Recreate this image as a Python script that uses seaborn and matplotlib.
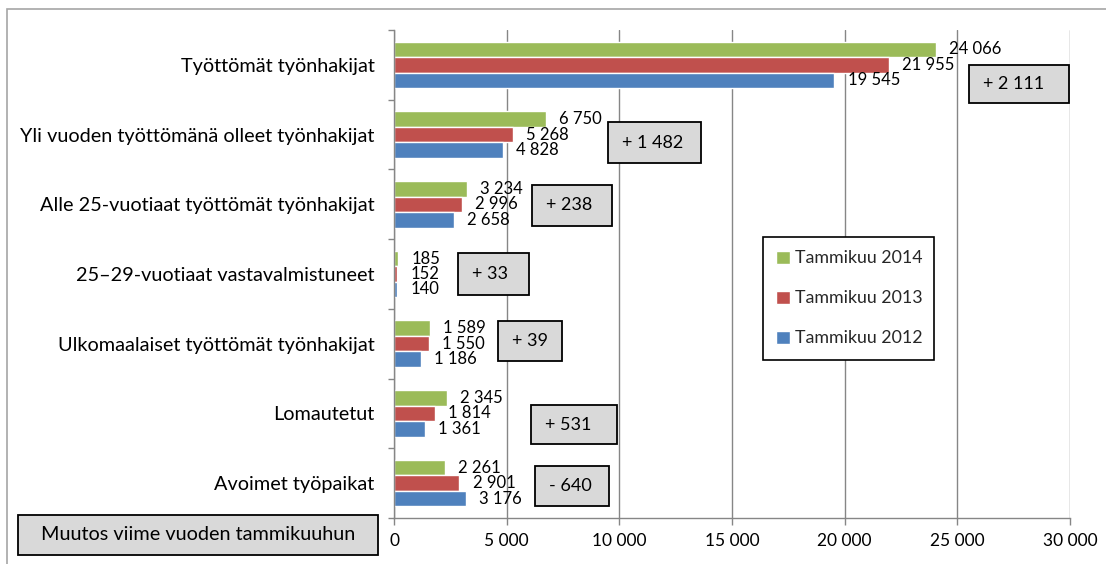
import matplotlib
matplotlib.use("Agg")
import matplotlib.pyplot as plt
import seaborn as sns
import pandas as pd
from matplotlib.patches import Rectangle
from matplotlib.ticker import FixedLocator, FuncFormatter

categories = [
    "Työttömät työnhakijat",
    "Yli vuoden työttömänä olleet työnhakijat",
    "Alle 25-vuotiaat työttömät työnhakijat",
    "25–29-vuotiaat vastavalmistuneet",
    "Ulkomaalaiset työttömät työnhakijat",
    "Lomautetut",
    "Avoimet työpaikat",
]
series_names = ["Tammikuu 2014", "Tammikuu 2013", "Tammikuu 2012"]
values_2014 = [24066, 6750, 3234, 185, 1589, 2345, 2261]
values_2013 = [21955, 5268, 2996, 152, 1550, 1814, 2901]
values_2012 = [19545, 4828, 2658, 140, 1186, 1361, 3176]
changes = ["+ 2 111", "+ 1 482", "+ 238", "+ 33", "+ 39", "+ 531", "- 640"]
x_ticks = [0, 5000, 10000, 15000, 20000, 25000, 30000]
colors = ["#9BBB59", "#C0504D", "#4F81BD"]
note_text = "Muutos viime vuoden tammikuuhun"

rows = []
for name, vals in zip(series_names, [values_2014, values_2013, values_2012]):
    for c, v in zip(categories, vals):
        rows.append({"cat": c, "series": name, "value": v})
df = pd.DataFrame(rows)

sns.set_theme(style="white")
plt.rcParams["font.family"] = ["Lato", "DejaVu Sans"]

W, H = 1106, 564
fig = plt.figure(figsize=(W / 100, H / 100), dpi=100)
ax_l, ax_r, ax_t, ax_b = 394, 1070, 30, 518
ax = fig.add_axes([ax_l / W, 1 - ax_b / H, (ax_r - ax_l) / W, (ax_b - ax_t) / H])

sns.barplot(data=df, y="cat", x="value", hue="series", order=categories,
            hue_order=series_names, palette=colors, orient="h", width=0.667,
            saturation=1, ax=ax, legend=True)

ax.set_xlim(0, 30000)
ax.set_ylim(len(categories) - 0.5, -0.5)
ax.set_xlabel("")
ax.set_ylabel("")
ax.xaxis.set_major_locator(FixedLocator(x_ticks))
ax.xaxis.set_major_formatter(FuncFormatter(lambda v, p: f"{int(v):,}".replace(",", " ")))
ax.grid(axis="x", color="#868686", linewidth=1)
ax.set_axisbelow(True)
for s in ["top", "right"]:
    ax.spines[s].set_visible(False)
for s in ["left", "bottom"]:
    ax.spines[s].set_color("#868686")
    ax.spines[s].set_linewidth(1)

ax.tick_params(axis="x", direction="out", length=5, width=1, color="#868686",
               pad=6, labelsize=12.5, labelcolor="black", bottom=True)
ax.tick_params(axis="y", which="major", length=0, pad=14, labelsize=14.3, labelcolor="black")
ax.yaxis.set_minor_locator(FixedLocator([i - 0.5 for i in range(len(categories) + 1)]))
ax.tick_params(axis="y", which="minor", direction="out", length=4, width=1,
               color="#868686", left=True)

for cont in ax.containers:
    for bar in cont:
        w = bar.get_width()
        ax.annotate(f"{int(w):,}".replace(",", " "),
                    (w, bar.get_y() + bar.get_height() / 2),
                    xytext=(9.5, 0), textcoords="offset points",
                    ha="left", va="center", fontsize=12, color="black")

handles, labels = ax.get_legend_handles_labels()
ax.legend(handles, labels, loc="upper left",
          bbox_to_anchor=(763 / W, 1 - 237 / H, 171 / W, 0.0),
          bbox_transform=fig.transFigure, mode="expand", borderaxespad=0,
          fontsize=12.8, frameon=True, fancybox=False, edgecolor="black",
          framealpha=1, handlelength=0.75, handleheight=0.75, handletextpad=0.3,
          labelspacing=1.35, borderpad=0.75)
ax.get_legend().get_frame().set_linewidth(1.2)

boxes = [
    (969, 65, 1069, 103),
    (608, 122, 701, 163),
    (532, 185, 612, 226),
    (458, 253, 529, 295),
    (498, 321, 562, 361),
    (531, 405, 617, 444),
    (535, 466, 609, 506),
]

def fig_box(x0, y0, x1, y1):
    r = Rectangle((x0 / W, 1 - y1 / H), (x1 - x0) / W, (y1 - y0) / H,
                  transform=fig.transFigure, facecolor="#D9D9D9",
                  edgecolor="black", linewidth=1.3, zorder=5)
    fig.add_artist(r)

for (x0, y0, x1, y1), txt in zip(boxes, changes):
    fig_box(x0, y0, x1, y1)
    fig.text((x0 + 14) / W, 1 - (y0 + y1) / 2 / H, txt, ha="left", va="center",
             fontsize=13, color="black", zorder=6)

fig_box(18, 515, 378, 555)
fig.text(198 / W, 1 - 535 / H, note_text, ha="center", va="center",
         fontsize=14.3, color="black", zorder=6)

# outer chart border
border = Rectangle((7 / W, -0.05), 1.2, 1 - 9 / H + 0.05, transform=fig.transFigure,
                   facecolor="none", edgecolor="#A6A6A6", linewidth=1.2)
fig.add_artist(border)

fig.savefig("out.png", dpi=100)
